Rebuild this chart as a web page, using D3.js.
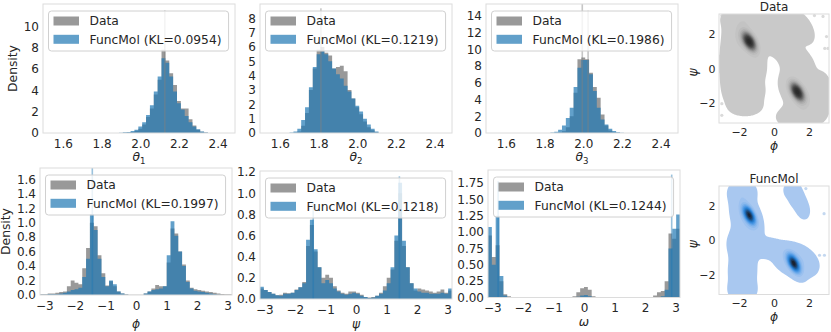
<!DOCTYPE html>
<html>
<head>
<meta charset="utf-8">
<script src="https://cdn.jsdelivr.net/npm/d3@7"></script>
<style>
  body { margin: 0; background: #fff; }
  svg text { font-family: "DejaVu Sans", sans-serif; fill: #262626; }
</style>
</head>
<body>
<svg id="chart" width="831" height="332"></svg>
<script>
// ---- bond angle histograms (bin width 0.02) ----
const thetaBinWidth = 0.02;
const theta1Start = 1.89;
const theta1Data  = [0.01,0.02,0.05,0.1,0.2,0.4,0.8,1.5,2.3,3.6,5.0,7.8,6.8,5.6,4.5,3.0,2.3,2.3,1.3,0.7,0.3,0.12,0.04];
const theta1Model = [0.03,0.06,0.1,0.18,0.3,0.6,1.0,1.7,2.6,3.9,5.3,7.0,6.6,5.3,3.9,2.8,2.2,1.6,1.0,0.6,0.35,0.15,0.05];
const theta1Spikes = [[2.127, 11.5]];

const theta2Start = 1.65;
const theta2Data  = [0,0.02,0.1,0.5,1.4,3.0,4.5,5.8,6.0,5.6,5.4,4.5,4.6,4.7,4.3,3.0,2.4,1.8,1.3,0.8,0.4,0.2,0.05];
const theta2Model = [0.03,0.1,0.3,0.9,1.8,3.2,4.6,5.5,5.7,5.5,5.0,4.5,4.1,3.8,3.3,2.9,2.4,1.9,1.5,1.0,0.6,0.3,0.1];
const theta2Spikes = [[1.812, 8.7]];

const theta3Start = 1.83;
const theta3Data  = [0,0.01,0.05,0.2,0.7,2.0,4.8,8.8,9.0,8.8,7.2,5.5,4.2,2.2,0.9,0.3,0.1,0.03,0];
const theta3Model = [0.05,0.15,0.4,0.9,1.8,3.0,5.5,7.8,8.7,8.7,7.0,5.0,3.0,1.6,1.0,0.5,0.25,0.1,0.03];
const theta3Spikes = [[1.995, 15.5], [2.025, 14.6]];

// ---- torsion angle histograms (50 bins over [-pi, pi]) ----
const angleBins = 50;
const phiData   = [0.01,0.01,0.02,0.02,0.03,0.04,0.05,0.12,0.2,0.17,0.15,0.37,0.65,1.0,0.95,0.55,0.3,0.13,0.19,0.12,0.05,0.02,0.01,0.005,0.003,0.003,0.005,0.02,0.05,0.09,0.14,0.12,0.12,0.45,0.92,0.85,0.6,0.42,0.2,0.1,0.08,0.07,0.06,0.05,0.04,0.03,0.02,0.015,0.01,0.01];
const phiModel  = [0.005,0.005,0.01,0.01,0.01,0.02,0.03,0.05,0.07,0.08,0.1,0.25,0.5,1.12,0.9,0.5,0.25,0.12,0.2,0.15,0.05,0.02,0.005,0,0,0,0,0.02,0.05,0.07,0.08,0.09,0.12,0.55,1.02,0.82,0.6,0.4,0.18,0.09,0.06,0.05,0.04,0.03,0.02,0.01,0.005,0,0,0];
const phiSpikes = [[-1.43, 1.76]];

const psiData   = [0.1,0.085,0.066,0.05,0.035,0.04,0.06,0.055,0.06,0.09,0.11,0.16,0.5,0.7,0.45,0.3,0.2,0.23,0.2,0.12,0.08,0.06,0.05,0.07,0.07,0.06,0.04,0.02,0.015,0.02,0.03,0.06,0.12,0.2,0.28,0.55,1.0,0.5,0.3,0.15,0.08,0.1,0.09,0.08,0.07,0.06,0.07,0.09,0.06,0.08];
const psiModel  = [0.116,0.085,0.066,0.05,0.035,0.03,0.05,0.05,0.06,0.085,0.11,0.15,0.56,0.75,0.47,0.3,0.15,0.18,0.15,0.1,0.07,0.05,0.04,0.05,0.06,0.05,0.03,0.02,0.01,0.015,0.03,0.05,0.08,0.15,0.3,0.6,1.1,0.55,0.3,0.15,0.1,0.07,0.06,0.06,0.05,0.05,0.05,0.06,0.05,0.1];
const psiSpikes = [[-1.4, 0.92], [1.42, 1.16]];

const omegaData  = [0.95,0.62,0.8,0.25,0.05,0.02,0,0,0,0,0,0,0,0,0,0,0,0,0,0,0,0,0.02,0.08,0.14,0.16,0.12,0.02,0,0,0,0,0,0,0,0,0,0,0,0,0,0,0,0.03,0.08,0.1,0.25,0.98,0.9,1.05];
const omegaModel = [1.08,0.5,1.25,0.33,0.03,0,0,0,0,0,0,0,0,0,0,0,0,0,0,0,0,0,0,0.01,0.03,0.04,0.02,0,0,0,0,0,0,0,0,0,0,0,0,0,0,0,0,0,0,0.02,0.12,0.75,1.05,1.27];
const omegaSpikes = [[-2.81, 1.78], [2.87, 1.88]];

const kls = ["0.0954", "0.1219", "0.1986", "0.1997", "0.1218", "0.1244"];

// ---- Ramachandran KDE components: [phi, psi, sdPhi, sdPsi, rho, weight] ----
const ramaData = [
  [-1.41, 1.55, 0.3, 0.4, -0.5, 0.8],
  [1.33, -1.35, 0.3, 0.4, -0.5, 0.8],
  [-1.6, 1.7, 0.6, 0.7, -0.4, 0.12],
  [-1.3, 2.9, 0.85, 0.35, 0.0, 0.1],
  [-2.4, 0.3, 0.4, 1.2, 0.0, 0.1],
  [-1.6, -1.3, 0.6, 0.55, 0.0, 0.1],
  [-1.1, 0.0, 0.35, 0.45, 0.0, 0.1],
  [0.2, 1.4, 0.4, 0.42, -0.3, 0.1],
  [0.7, 1.9, 0.35, 0.5, -0.3, 0.08],
  [1.5, 2.4, 0.45, 0.55, -0.5, 0.1],
  [1.4, -1.4, 0.6, 0.7, -0.4, 0.12],
  [1.3, 0.4, 0.55, 0.5, -0.3, 0.1],
  [2.7, -1.5, 0.35, 0.7, 0.0, 0.1],
  [1.4, -2.8, 0.7, 0.4, 0.0, 0.1],
  [-1.6, -2.2, 0.5, 0.3, 0.0, 0.08]
];
const ramaDataPoints = [[-2.98, 3.05], [2.31, 3.05], [2.8, 3.0], [3.0, 1.84], [2.9, 1.16], [3.08, 1.16], [-2.98, -2.03], [-2.98, -2.7]];

const ramaModel = [
  [-1.41, 1.45, 0.26, 0.38, -0.55, 0.8],
  [1.13, -1.35, 0.26, 0.38, -0.55, 0.8],
  [-1.6, 1.4, 0.5, 0.7, -0.3, 0.12],
  [-1.8, 2.8, 0.45, 0.4, 0.0, 0.1],
  [-1.7, -0.2, 0.55, 0.6, 0.0, 0.1],
  [-1.8, -1.8, 0.45, 0.6, 0.0, 0.1],
  [-1.8, -2.9, 0.45, 0.4, 0.0, 0.1],
  [1.2, -1.15, 0.7, 0.55, -0.3, 0.14],
  [-0.3, -0.45, 0.4, 0.3, 0.0, 0.1],
  [1.05, 2.9, 0.28, 0.3, 0.0, 0.1],
  [1.3, 2.4, 0.25, 0.3, 0.0, 0.08],
  [1.6, 1.9, 0.25, 0.38, -0.3, 0.1]
];
const ramaModelPoints = [[1.82, 2.99], [1.72, 1.54], [2.86, 1.54], [2.6, -0.87], [2.88, -0.87]];

const gray = "#808080", blue = "#1f77b4";
const svg = d3.select("#chart");
const defs = svg.append("defs");
let clipCount = 0;

function addClip(left, top, right, bottom) {
  const id = "clip" + (clipCount++);
  defs.append("clipPath").attr("id", id).append("rect")
    .attr("x", left).attr("y", top).attr("width", right - left).attr("height", bottom - top);
  return `url(#${id})`;
}

// step outline of a histogram: left edge of each bin plus the right edge of the last one
function toSteps(vals, start, width) {
  const pts = vals.map((v, i) => [start + i * width, v]);
  pts.push([start + vals.length * width, vals[vals.length - 1]]);
  return pts;
}

function axisLabel(g, x, y, sym, sub, rotate) {
  const t = g.append("text").attr("text-anchor", "middle").style("font-size", "12.3px")
    .attr("transform", `translate(${x},${y})` + (rotate ? " rotate(-90)" : ""));
  t.append("tspan").style("font-style", "italic").text(sym);
  if (sub) t.append("tspan").attr("dy", 3).style("font-size", "8.6px").text(sub);
}

function histPanel(o) {
  const x = d3.scaleLinear().domain(o.xDomain).range([o.left, o.right]);
  const y = d3.scaleLinear().domain([0, o.yMax]).range([o.bottom, o.top]);
  const g = svg.append("g");
  const plot = g.append("g").attr("clip-path", addClip(o.left, o.top, o.right, o.bottom));
  const area = d3.area().curve(d3.curveStepAfter).x(d => x(d[0])).y0(y(0)).y1(d => y(d[1]));

  plot.append("path").attr("d", area(toSteps(o.data, o.start, o.width)))
    .attr("fill", gray).attr("fill-opacity", 0.8);
  plot.append("path").attr("d", area(toSteps(o.model, o.start, o.width)))
    .attr("fill", blue).attr("fill-opacity", 0.7);
  plot.append("g").selectAll("rect").data(o.spikes).join("rect")
    .attr("x", d => x(d[0]) - 0.8).attr("width", 1.6)
    .attr("y", d => y(d[1])).attr("height", d => y(0) - y(d[1]))
    .attr("fill", o.spikeColor).attr("fill-opacity", 0.45);

  g.append("rect").attr("x", o.left).attr("y", o.top)
    .attr("width", o.right - o.left).attr("height", o.bottom - o.top)
    .attr("fill", "none").attr("stroke", "#dcdcdc").attr("stroke-width", 1);

  const xa = g.append("g").attr("transform", `translate(0,${o.bottom})`)
    .call(d3.axisBottom(x).tickValues(o.xTicks).tickFormat(d3.format(o.xFmt)).tickSize(0).tickPadding(6));
  const ya = g.append("g").attr("transform", `translate(${o.left},0)`)
    .call(d3.axisLeft(y).tickValues(o.yTicks).tickFormat(d3.format(o.yFmt)).tickSize(0).tickPadding(4));
  [xa, ya].forEach(a => {
    a.select(".domain").remove();
    a.selectAll("text").style("font-size", "12px").attr("fill", "#262626");
  });

  // legend
  const lx = o.left + 5.5, ly = o.top + 7;
  const leg = g.append("g");
  const box = leg.append("rect").attr("x", lx).attr("y", ly).attr("height", 40).attr("rx", 3)
    .attr("fill", "#fff").attr("fill-opacity", 0.8).attr("stroke", "#d0d0d0");
  const items = [["Data", gray, 0.8], [`FuncMol (KL=${o.kl})`, blue, 0.7]];
  let maxW = 0;
  items.forEach((it, i) => {
    const cy = ly + 10 + i * 18.3;
    leg.append("rect").attr("x", lx + 5).attr("y", cy - 4.5).attr("width", 25.5).attr("height", 9)
      .attr("fill", it[1]).attr("fill-opacity", it[2]);
    const t = leg.append("text").attr("x", lx + 41).attr("y", cy).attr("dy", "0.36em")
      .style("font-size", "12.3px").text(it[0]);
    maxW = Math.max(maxW, t.node().getComputedTextLength());
  });
  box.attr("width", 41 + maxW + 7);

  axisLabel(g, (o.left + o.right) / 2, o.xLabelY, o.sym, o.sub, false);
  if (o.yLabel) {
    g.append("text").attr("text-anchor", "middle").style("font-size", "12.3px")
      .attr("transform", `translate(${o.yLabelX},${(o.top + o.bottom) / 2}) rotate(-90)`)
      .attr("dy", "0.36em").text(o.yLabel);
  }
}

function kdePanel(o) {
  const n = 140, P = Math.PI;
  const x = d3.scaleLinear().domain([-P, P]).range([o.left, o.right]);
  const y = d3.scaleLinear().domain([-P, P]).range([o.bottom, o.top]);
  const gx = d3.scaleLinear().domain([0, n]).range([-P, P]);
  const gy = d3.scaleLinear().domain([0, n]).range([P, -P]);
  const values = new Float64Array(n * n);
  for (let j = 0; j < n; j++) {
    for (let i = 0; i < n; i++) {
      const px = gx(i + 0.5), py = gy(j + 0.5);
      let s = 0;
      o.comps.forEach(c => {
        const dx = (px - c[0]) / c[2], dy = (py - c[1]) / c[3], r = c[4];
        const q = (dx * dx - 2 * r * dx * dy + dy * dy) / (1 - r * r);
        s += c[5] * Math.exp(-q / 2);
      });
      values[j * n + i] = s;
    }
  }
  const mx = d3.max(values);
  const levels = [0.02, 0.14, 0.22, 0.3, 0.38, 0.46, 0.54, 0.62, 0.7, 0.78, 0.86, 0.94];
  const contours = d3.contours().size([n, n]).thresholds(levels.map(l => l * mx))(values);
  const proj = d3.geoTransform({ point: function(px, py) { this.stream.point(x(gx(px)), y(gy(py))); } });
  const path = d3.geoPath(proj);
  const color = d3.scaleSequential(o.interp).domain([0, levels.length - 1]);

  const g = svg.append("g");
  const plot = g.append("g").attr("clip-path", addClip(o.left, o.top, o.right, o.bottom));
  plot.append("g").selectAll("circle").data(o.points).join("circle")
    .attr("cx", d => x(d[0])).attr("cy", d => y(d[1])).attr("r", 1.6)
    .attr("fill", o.pointColor);
  plot.append("g").selectAll("path").data(contours).join("path")
    .attr("d", path).attr("fill", (d, i) => color(i));

  g.append("rect").attr("x", o.left).attr("y", o.top)
    .attr("width", o.right - o.left).attr("height", o.bottom - o.top)
    .attr("fill", "none").attr("stroke", "#dcdcdc");

  const xa = g.append("g").attr("transform", `translate(0,${o.bottom})`)
    .call(d3.axisBottom(x).tickValues([-2, 0, 2]).tickFormat(d3.format("d")).tickSize(0).tickPadding(5));
  const ya = g.append("g").attr("transform", `translate(${o.left},0)`)
    .call(d3.axisLeft(y).tickValues([-2, 0, 2]).tickFormat(d3.format("d")).tickSize(0).tickPadding(3.5));
  [xa, ya].forEach(a => {
    a.select(".domain").remove();
    a.selectAll("text").style("font-size", "11px").attr("fill", "#262626");
  });
  g.append("text").attr("x", (o.left + o.right) / 2).attr("y", o.top - 3)
    .attr("text-anchor", "middle").style("font-size", "12px").text(o.title);
  axisLabel(g, (o.left + o.right) / 2, o.bottom + 26.5, "\u03d5", null, false);
  axisLabel(g, 697, (o.top + o.bottom) / 2 + 4, "\u03c8", null, true);
}

const P = Math.PI, aw = 2 * P / angleBins;
const thetaDomain = [1.497, 2.49];
const thetaTicks = [1.6, 1.8, 2.0, 2.2, 2.4];
const angleTicks = [-3, -2, -1, 0, 1, 2, 3];

histPanel({ left: 43, right: 235, top: 4, bottom: 133, xDomain: thetaDomain, yMax: 12.1,
  start: theta1Start, width: thetaBinWidth, data: theta1Data, model: theta1Model, spikes: theta1Spikes, spikeColor: gray,
  xTicks: thetaTicks, xFmt: ".1f", yTicks: [0, 2, 4, 6, 8, 10], yFmt: "d", kl: kls[0],
  sym: "\u03b8", sub: "1", xLabelY: 161, yLabel: "Density", yLabelX: 13 });
histPanel({ left: 260, right: 452, top: 4, bottom: 133, xDomain: thetaDomain, yMax: 9.0,
  start: theta2Start, width: thetaBinWidth, data: theta2Data, model: theta2Model, spikes: theta2Spikes, spikeColor: gray,
  xTicks: thetaTicks, xFmt: ".1f", yTicks: d3.range(0, 9), yFmt: "d", kl: kls[1],
  sym: "\u03b8", sub: "2", xLabelY: 161 });
histPanel({ left: 486, right: 678, top: 4, bottom: 133, xDomain: thetaDomain, yMax: 15.4,
  start: theta3Start, width: thetaBinWidth, data: theta3Data, model: theta3Model, spikes: theta3Spikes, spikeColor: gray,
  xTicks: thetaTicks, xFmt: ".1f", yTicks: d3.range(0, 15, 2), yFmt: "d", kl: kls[2],
  sym: "\u03b8", sub: "3", xLabelY: 161 });

histPanel({ left: 40, right: 232, top: 168, bottom: 295, xDomain: [-P, P], yMax: 1.756,
  start: -P, width: aw, data: phiData, model: phiModel, spikes: phiSpikes, spikeColor: blue,
  xTicks: angleTicks, xFmt: "d", yTicks: d3.range(0, 1.7, 0.2), yFmt: ".1f", kl: kls[3],
  sym: "\u03d5", xLabelY: 327.5, yLabel: "Density", yLabelX: 6 });
histPanel({ left: 260, right: 452, top: 171, bottom: 299, xDomain: [-P, P], yMax: 1.21,
  start: -P, width: aw, data: psiData, model: psiModel, spikes: psiSpikes, spikeColor: blue,
  xTicks: angleTicks, xFmt: "d", yTicks: d3.range(0, 1.3, 0.2), yFmt: ".1f", kl: kls[4],
  sym: "\u03c8", xLabelY: 327.5 });
histPanel({ left: 488, right: 680, top: 170, bottom: 297.5, xDomain: [-P, P], yMax: 1.95,
  start: -P, width: aw, data: omegaData, model: omegaModel, spikes: omegaSpikes, spikeColor: blue,
  xTicks: angleTicks, xFmt: "d", yTicks: d3.range(0, 1.8, 0.25), yFmt: ".2f", kl: kls[5],
  sym: "\u03c9", xLabelY: 326 });

kdePanel({ left: 719, right: 829, top: 14, bottom: 123, comps: ramaData, points: ramaDataPoints,
  pointColor: "#dadada", title: "Data",
  interp: d3.interpolateRgbBasis(["#c9c9c9", "#bdbdbd", "#9a9a9a", "#6a6a6a", "#3c3c3c", "#2a2a2a"]) });
kdePanel({ left: 719, right: 829, top: 186, bottom: 294.5, comps: ramaModel, points: ramaModelPoints,
  pointColor: "#c4d8f0", title: "FuncMol",
  interp: d3.interpolateRgbBasis(["#a9c8f0", "#8dbaee", "#4f9ae6", "#1f7fd6", "#1e4f86", "#1a2230"]) });
</script>
</body>
</html>
